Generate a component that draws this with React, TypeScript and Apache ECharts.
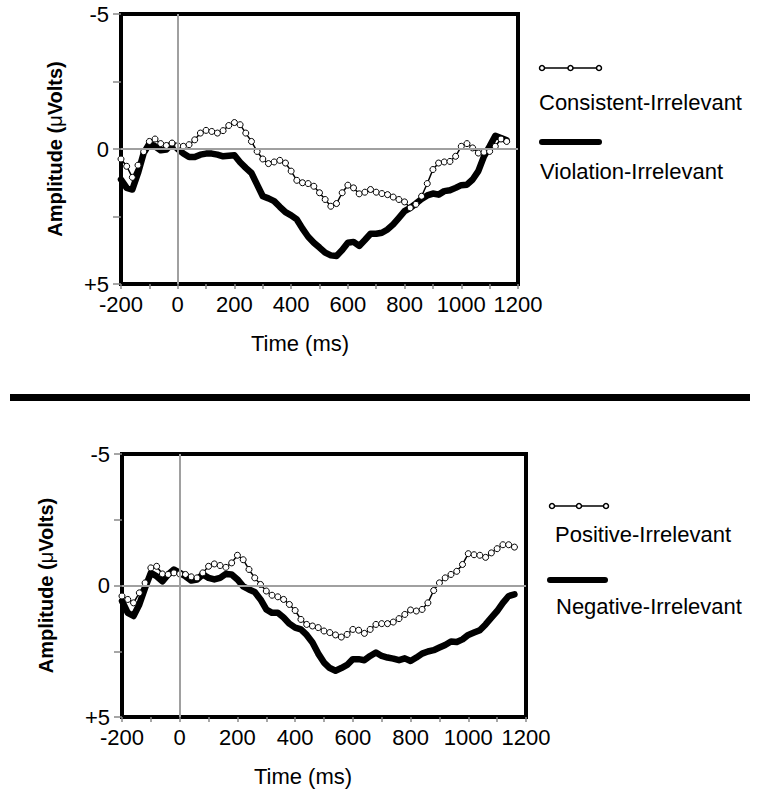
import React, { useEffect, useRef } from "react";
import * as echarts from "echarts";

const times = [
  -200, -180, -160, -140, -120, -100, -80, -60, -40, -20,
  0, 20, 40, 60, 80, 100, 120, 140, 160, 180,
  200, 220, 240, 260, 280, 300, 320, 340, 360, 380,
  400, 420, 440, 460, 480, 500, 520, 540, 560, 580,
  600, 620, 640, 660, 680, 700, 720, 740, 760, 780,
  800, 820, 840, 860, 880, 900, 920, 940, 960, 980,
  1000, 1020, 1040, 1060, 1080, 1100, 1120, 1140, 1160,
];

const consistentIrrelevant = [
  0.37, 0.64, 1.05, 0.6, 0.1, -0.28, -0.37, -0.2, -0.13, -0.22,
  -0.12, -0.1, -0.16, -0.34, -0.59, -0.69, -0.65, -0.59, -0.68, -0.87,
  -0.98, -0.9, -0.59, -0.28, 0.09, 0.37, 0.54, 0.48, 0.42, 0.52,
  0.82, 1.16, 1.25, 1.28, 1.38, 1.62, 1.87, 2.12, 2.02, 1.62,
  1.34, 1.44, 1.66, 1.6, 1.5, 1.6, 1.65, 1.69, 1.78, 1.87,
  1.96, 2.18, 2.05, 1.75, 1.28, 0.76, 0.52, 0.48, 0.46, 0.27,
  -0.1, -0.2, -0.04, 0.15, 0.12, 0.09, -0.1, -0.37, -0.28,
];

const violationIrrelevant = [
  1.13, 1.44, 1.5, 0.89, 0.15, -0.2, -0.1, 0.05, 0.02, -0.2,
  0, 0.17, 0.3, 0.3, 0.21, 0.17, 0.17, 0.21, 0.27, 0.25,
  0.23, 0.49, 0.7, 0.89, 1.32, 1.75, 1.83, 1.93, 2.14, 2.34,
  2.46, 2.61, 2.95, 3.25, 3.47, 3.65, 3.84, 3.94, 3.96, 3.74,
  3.47, 3.44, 3.59, 3.37, 3.14, 3.14, 3.1, 2.98, 2.79, 2.55,
  2.3, 2.18, 2.02, 1.85, 1.72, 1.65, 1.69, 1.56, 1.53, 1.44,
  1.34, 1.32, 1.13, 0.82, 0.27, -0.1, -0.49, -0.41, -0.32,
];

const positiveIrrelevant = [
  0.4, 0.53, 0.66, 0.28, -0.1, -0.67, -0.73, -0.44, -0.42, -0.48,
  -0.44, -0.42, -0.33, -0.29, -0.48, -0.73, -0.82, -0.76, -0.69, -0.86,
  -1.15, -0.98, -0.61, -0.29, -0.04, 0.21, 0.37, 0.43, 0.53, 0.72,
  0.95, 1.29, 1.48, 1.54, 1.6, 1.73, 1.79, 1.88, 1.96, 1.86,
  1.67, 1.7, 1.82, 1.67, 1.48, 1.45, 1.45, 1.39, 1.26, 1.1,
  0.93, 0.97, 0.91, 0.66, 0.19, -0.1, -0.29, -0.42, -0.54, -0.8,
  -1.21, -1.17, -1.15, -1.07, -1.24, -1.4, -1.55, -1.55, -1.46,
];

const negativeIrrelevant = [
  0.59, 1.04, 1.16, 0.72, 0.09, -0.48, -0.35, -0.16, -0.42, -0.61,
  -0.48, -0.35, -0.19, -0.23, -0.42, -0.29, -0.23, -0.29, -0.44, -0.42,
  -0.23, 0.03, 0.15, 0.25, 0.53, 0.91, 1.04, 1.04, 1.22, 1.45,
  1.6, 1.67, 1.88, 2.17, 2.59, 2.93, 3.14, 3.24, 3.14, 3.02,
  2.8, 2.8, 2.84, 2.68, 2.55, 2.68, 2.74, 2.78, 2.84, 2.77,
  2.87, 2.74, 2.59, 2.51, 2.46, 2.36, 2.26, 2.13, 2.15, 2.05,
  1.88, 1.79, 1.7, 1.48, 1.22, 0.97, 0.66, 0.4, 0.34,
];

const seriesNames = [
  ["Consistent-Irrelevant", "Violation-Irrelevant"],
  ["Positive-Irrelevant", "Negative-Irrelevant"],
];

const yTickValues = [-5, -2.5, 0, 2.5, 5];
const yTickLabels = ["-5", "", "0", "", "+5"];
const xLabelValues = [-200, 0, 200, 400, 600, 800, 1000, 1200];
const xAxisTitle = "Time (ms)";

const FONT = "'Liberation Sans', Arial, Helvetica, sans-serif";

export default function App() {
  const ref = useRef<HTMLDivElement>(null);

  useEffect(() => {
    document.body.style.margin = "0";
    if (!ref.current) return;
    const chart = echarts.init(ref.current, undefined, { renderer: "svg" });

    const grids = [
      { left: 121, top: 14, width: 397, height: 270 },
      { left: 122, top: 454, width: 404, height: 263 },
    ];

    const xAxisBase = (gi: number) => ({
      type: "value" as const,
      gridIndex: gi,
      position: "bottom" as const,
      min: -200,
      max: 1200,
      interval: 100,
      axisLine: { show: false, onZero: false },
      axisTick: { show: true, length: 5, lineStyle: { color: "#888", width: 1.5 } },
      splitLine: { show: false },
      axisLabel: {
        margin: 9,
        fontFamily: FONT,
        fontSize: 22,
        color: "#000",
        formatter: (v: number) => (xLabelValues.includes(v) ? String(v) : ""),
      },
    });

    const yAxisBase = (gi: number, gap: number) => ({
      type: "value" as const,
      gridIndex: gi,
      position: "left" as const,
      inverse: true,
      min: -5,
      max: 5,
      interval: 2.5,
      axisLine: { show: false, onZero: false },
      axisTick: { show: true, length: 8, lineStyle: { color: "#888", width: 1.5 } },
      splitLine: { show: false },
      axisLabel: {
        margin: 12,
        fontFamily: FONT,
        fontSize: 22,
        color: "#000",
        formatter: (v: number) => {
          const i = yTickValues.indexOf(v);
          return i >= 0 ? yTickLabels[i] : "";
        },
      },
      name: "{b|Amplitude (}{m|\u03bc}{b|Volts)}",
      nameLocation: "middle" as const,
      nameRotate: 90,
      nameGap: gap,
      nameTextStyle: {
        rich: {
          b: { fontFamily: FONT, fontSize: 20, fontWeight: "bold", color: "#000" },
          m: { fontFamily: FONT, fontSize: 20, fontWeight: "normal", color: "#000" },
        },
      },
    });

    const zeroLines = (gi: number) => ({
      type: "line" as const,
      xAxisIndex: gi,
      yAxisIndex: gi,
      data: [[0, 0]],
      symbol: "none",
      silent: true,
      z: 1,
      lineStyle: { width: 0 },
      markLine: {
        silent: true,
        symbol: ["none", "none"],
        label: { show: false },
        lineStyle: { color: "#a0a0a0", width: 2, type: "solid" as const },
        data: [{ xAxis: 0 }, { yAxis: 0 }],
      },
    });

    const thick = (gi: number, name: string, vals: number[]) => ({
      type: "line" as const,
      name,
      xAxisIndex: gi,
      yAxisIndex: gi,
      data: times.map((t, i) => [t, vals[i]]),
      symbol: "none",
      z: 3,
      lineStyle: { color: "#000", width: 6.5, cap: "round", join: "round" },
    });

    const open = (gi: number, name: string, vals: number[]) => ({
      type: "line" as const,
      name,
      xAxisIndex: gi,
      yAxisIndex: gi,
      data: times.map((t, i) => [t, vals[i]]),
      symbol: "circle",
      symbolSize: 6,
      showSymbol: true,
      showAllSymbol: true,
      z: 4,
      itemStyle: { color: "#fff", borderColor: "#000", borderWidth: 1 },
      lineStyle: { color: "#000", width: 1.5 },
    });

    const legendOpen = (x1: number, x2: number, y: number) => [
      { type: "line", shape: { x1, y1: y, x2, y2: y }, style: { stroke: "#000", lineWidth: 1.5 } },
      ...[x1, (x1 + x2) / 2, x2].map((cx) => ({
        type: "circle",
        shape: { cx, cy: y, r: 2.5 },
        style: { fill: "#fff", stroke: "#000", lineWidth: 1.5 },
      })),
    ];
    const legendThick = (x1: number, x2: number, y: number) => ({
      type: "line",
      shape: { x1, y1: y, x2, y2: y },
      style: { stroke: "#000", lineWidth: 6, lineCap: "round" },
    });
    const label = (text: string, x: number, y: number, align = "left") => ({
      type: "text",
      x,
      y,
      style: {
        text,
        fontFamily: FONT,
        fontSize: 22,
        fill: "#000",
        align,
        verticalAlign: "middle",
      },
    });

    const option = {
      animation: false,
      backgroundColor: "#fff",
      grid: grids.map((g) => ({
        ...g,
        show: true,
        borderColor: "#000",
        borderWidth: 4,
        backgroundColor: "transparent",
        containLabel: false,
      })),
      xAxis: [xAxisBase(0), xAxisBase(1)],
      yAxis: [yAxisBase(0, 56), yAxisBase(1, 66)],
      series: [
        zeroLines(0),
        thick(0, seriesNames[0][1], violationIrrelevant),
        open(0, seriesNames[0][0], consistentIrrelevant),
        zeroLines(1),
        thick(1, seriesNames[1][1], negativeIrrelevant),
        open(1, seriesNames[1][0], positiveIrrelevant),
      ],
      graphic: [
        ...legendOpen(542, 599, 68),
        label(seriesNames[0][0], 539, 102),
        legendThick(542, 599, 142),
        label(seriesNames[0][1], 540, 171),
        ...legendOpen(552, 606, 506),
        label(seriesNames[1][0], 555, 534),
        legendThick(550, 605, 580),
        label(seriesNames[1][1], 556, 606),
        label(xAxisTitle, 300, 343, "center"),
        label(xAxisTitle, 303, 776, "center"),
        {
          type: "rect",
          shape: { x: 10, y: 394, width: 740, height: 7 },
          style: { fill: "#000" },
        },
      ],
    };

    chart.setOption(option as any);
    return () => chart.dispose();
  }, []);

  return <div ref={ref} style={{ width: 757, height: 789 }} />;
}
